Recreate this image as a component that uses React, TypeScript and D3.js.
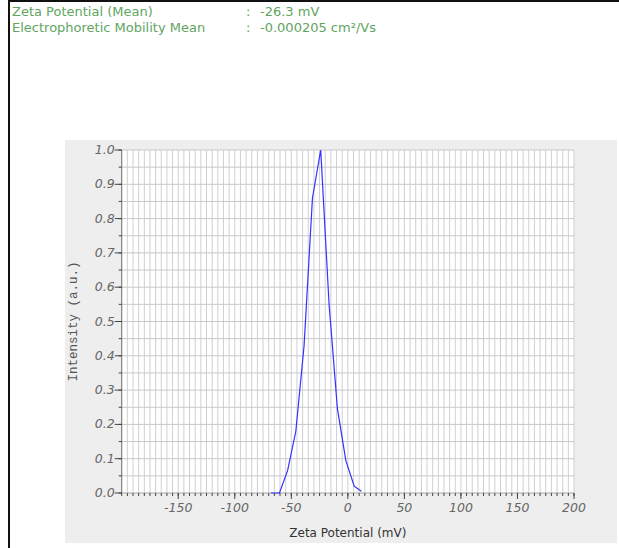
import React from "react";
import * as d3 from "d3";

const headerLabels = ["Zeta Potential (Mean)", "Electrophoretic Mobility Mean"];
const headerValues = ["-26.3 mV", "-0.000205 cm²/Vs"];

const zetaX = [-68, -60.5, -53.3, -46, -38.7, -31.3, -24, -16.6, -9.2, -1.8, 5.6, 12];
const intensityY = [0, 0, 0.065, 0.18, 0.43, 0.86, 1.0, 0.55, 0.245, 0.095, 0.02, 0.005];

const xMajorTicks = [-150, -100, -50, 0, 50, 100, 150, 200];
const yMajorTicks = [0, 0.1, 0.2, 0.3, 0.4, 0.5, 0.6, 0.7, 0.8, 0.9, 1.0];

const W = 619;
const H = 548;
const L = 121.7, R = 574, T = 150, B = 493;

export default function App() {
  const x = d3.scaleLinear().domain([-200, 200]).range([L, R]);
  const y = d3.scaleLinear().domain([0, 1]).range([B, T]);
  const xMinor = d3.range(-200, 200.01, 5);
  const yMinor = d3.range(0, 1.0001, 0.05);
  const line = d3
    .line<number>()
    .x((_, i) => x(zetaX[i]))
    .y((d) => y(d));
  const sans = "'DejaVu Sans', Verdana, sans-serif";
  return (
    <svg
      width={W}
      height={H}
      style={{ position: "absolute", left: 0, top: 0, background: "#fff" }}
    >
      {/* frame */}
      <line x1={9} y1={0} x2={9} y2={H} stroke="#111" strokeWidth={2} />
      <line x1={8} y1={1} x2={W} y2={1} stroke="#111" strokeWidth={2} />
      {/* header */}
      {headerLabels.map((t, i) => (
        <g key={t} fontFamily={sans} fontSize={13} fill="#5fa55f">
          <text x={12} y={16 + i * 15.5}>{t}</text>
          <text x={246} y={16 + i * 15.5}>:</text>
          <text x={260} y={16 + i * 15.5}>{headerValues[i]}</text>
        </g>
      ))}
      {/* panel */}
      <rect x={65} y={140} width={552} height={403} fill="#eeeeee" />
      <rect x={L} y={T} width={R - L} height={B - T} fill="#fff" />
      {/* grid */}
      {xMinor.map((v) => (
        <line key={"gx" + v} x1={x(v)} x2={x(v)} y1={T} y2={B} stroke="#d0d0d0" strokeWidth={1} />
      ))}
      {yMinor.map((v) => (
        <line key={"gy" + v} x1={L} x2={R} y1={y(v)} y2={y(v)} stroke="#c8c8c8" strokeWidth={1} />
      ))}
      {/* axes */}
      <line x1={L} x2={L} y1={T} y2={B} stroke="#777" strokeWidth={1} />
      <line x1={L} x2={R} y1={B} y2={B} stroke="#bbb" strokeWidth={1} />
      {yMinor.map((v) => (
        <line key={"yt" + v} x1={L - 3} x2={L} y1={y(v)} y2={y(v)} stroke="#444" strokeWidth={1} />
      ))}
      {yMajorTicks.map((v) => (
        <g key={"yl" + v}>
          <line x1={L - 7} x2={L} y1={y(v)} y2={y(v)} stroke="#444" strokeWidth={1} />
          <text
            x={L - 7}
            y={y(v) + 4}
            textAnchor="end"
            fontFamily={sans}
            fontStyle="italic"
            fontSize={12.5}
            fill="#666"
          >
            {d3.format(".1f")(v)}
          </text>
        </g>
      ))}
      {xMinor.map((v) => (
        <line key={"xt" + v} x1={x(v)} x2={x(v)} y1={B} y2={B + 3} stroke="#444" strokeWidth={1} />
      ))}
      {xMajorTicks.map((v) => (
        <g key={"xl" + v}>
          <line x1={x(v)} x2={x(v)} y1={B} y2={B + 6} stroke="#444" strokeWidth={1} />
          <text
            x={x(v)}
            y={B + 19}
            textAnchor="middle"
            fontFamily={sans}
            fontStyle="italic"
            fontSize={12.5}
            fill="#666"
          >
            {v}
          </text>
        </g>
      ))}
      {/* data */}
      <path d={line(intensityY) || ""} fill="none" stroke="#3333ff" strokeWidth={1.2} />
      {/* titles */}
      <text
        x={(L + R) / 2}
        y={537}
        textAnchor="middle"
        fontFamily={sans}
        fontSize={12}
        fill="#333"
      >
        Zeta Potential (mV)
      </text>
      <text
        transform={`translate(77, ${(T + B) / 2}) rotate(-90)`}
        textAnchor="middle"
        fontFamily="'Liberation Mono', monospace"
        fontSize={12.5}
        fill="#555"
      >
        Intensity (a.u.)
      </text>
    </svg>
  );
}
